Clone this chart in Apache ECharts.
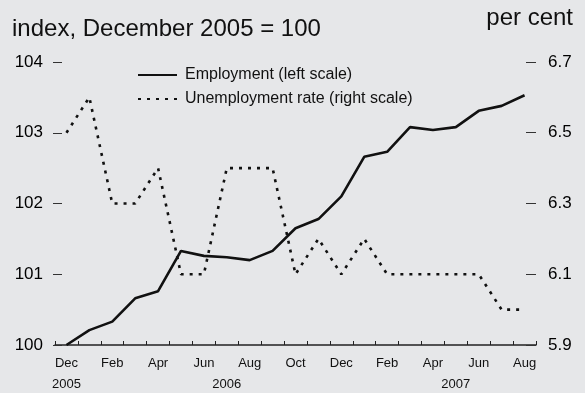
<!DOCTYPE html>
<html>
<head>
<meta charset="utf-8">
<script src="https://cdn.jsdelivr.net/npm/echarts@6/dist/echarts.min.js"></script>
<style>
html,body{margin:0;padding:0;background:#e6e7e9;}
#chart{width:585px;height:393px;}
</style>
</head>
<body>
<div id="chart"></div>
<script>
var months = ['Dec','Jan','Feb','Mar','Apr','May','Jun','Jul','Aug','Sep','Oct','Nov',
              'Dec','Jan','Feb','Mar','Apr','May','Jun','Jul','Aug'];
var yearLabels = ['2005','','','','','','','2006','','','','','','','','','','2007','','',''];
var employment = [100.0,100.21,100.33,100.66,100.76,101.33,101.26,101.24,101.2,101.33,101.65,101.78,
                  102.1,102.66,102.73,103.08,103.04,103.08,103.31,103.38,103.53];
var unemployment = [6.5,6.6,6.3,6.3,6.4,6.1,6.1,6.4,6.4,6.4,6.1,6.2,
                    6.1,6.2,6.1,6.1,6.1,6.1,6.1,6.0,6.0];

var FONT = 'Liberation Sans, Arial, Helvetica, sans-serif';
var chart = echarts.init(document.getElementById('chart'));
chart.setOption({
  backgroundColor: '#e6e7e9',
  animation: false,
  grid: {left: 55, right: 49, top: 62, bottom: 48},
  graphic: [
    {type: 'text', left: 12, top: 17, style: {text: 'index, December 2005 = 100', font: '24px ' + FONT, fill: '#111'}},
    {type: 'text', right: 12, top: 6, style: {text: 'per cent', font: '24px ' + FONT, fill: '#111'}}
  ],
  legend: {
    orient: 'vertical', left: 132, top: 62, itemWidth: 39, itemHeight: 14, itemGap: 8,
    itemStyle: {color: 'rgba(0,0,0,0)', borderWidth: 0},
    textStyle: {fontFamily: FONT, fontSize: 16, color: '#111', padding: [0, 0, 0, 3]},
    data: ['Employment (left scale)', 'Unemployment rate (right scale)']
  },
  xAxis: [
    {
      type: 'category', data: months, boundaryGap: true, position: 'bottom',
      axisLine: {show: true, lineStyle: {color: '#222', width: 1.5}},
      axisTick: {show: true, inside: true, length: 4, interval: 0, lineStyle: {color: '#222'}},
      axisLabel: {interval: 1, margin: 12, fontFamily: FONT, fontSize: 13, color: '#111'},
      splitLine: {show: false}
    },
    {
      type: 'category', data: yearLabels, boundaryGap: true, position: 'bottom',
      axisLine: {show: false}, axisTick: {show: false},
      axisLabel: {interval: 0, margin: 33, fontFamily: FONT, fontSize: 13, color: '#111'},
      splitLine: {show: false}
    }
  ],
  yAxis: [
    {
      type: 'value', min: 100, max: 104, interval: 1, position: 'left', offset: 2,
      axisLine: {show: false},
      axisTick: {show: true, inside: true, length: 9, lineStyle: {color: '#333', width: 1}},
      axisLabel: {margin: 10, fontFamily: FONT, fontSize: 17, color: '#000'},
      splitLine: {show: false}
    },
    {
      type: 'value', min: 5.9, max: 6.7, alignTicks: true, position: 'right',
      axisLine: {show: false},
      axisTick: {show: true, inside: true, length: 10, lineStyle: {color: '#333', width: 1}},
      axisLabel: {margin: 12, fontFamily: FONT, fontSize: 17, color: '#000',
                  formatter: function (v) { return v.toFixed(1); }},
      splitLine: {show: false}
    }
  ],
  series: [
    {
      name: 'Employment (left scale)', type: 'line', data: employment, yAxisIndex: 0, xAxisIndex: 0,
      symbol: 'none', color: '#111', lineStyle: {color: '#111', width: 2.6}
    },
    {
      name: 'Unemployment rate (right scale)', type: 'line', data: unemployment, yAxisIndex: 1, xAxisIndex: 0,
      symbol: 'none', color: '#111', lineStyle: {color: '#111', width: 2.6, type: [3, 6]}
    }
  ]
});
</script>
</body>
</html>
